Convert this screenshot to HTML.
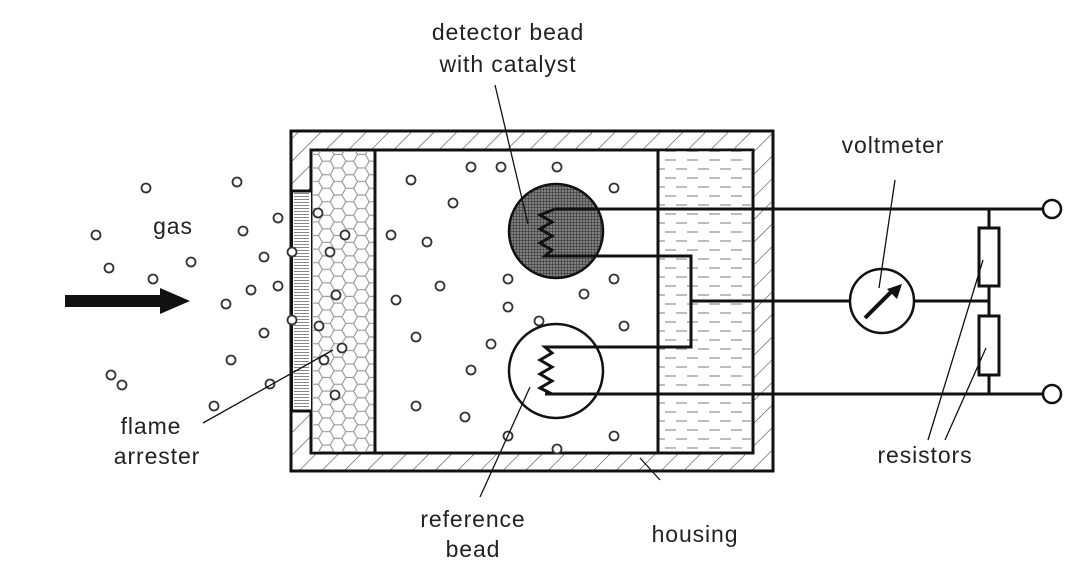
<!DOCTYPE html>
<html><head><style>
html,body{margin:0;padding:0;background:#fff;}
svg{display:block;}
text{font-family:"Liberation Sans",sans-serif;font-size:23px;letter-spacing:0.9px;fill:#222;}
</style></head><body>
<svg width="1080" height="571" viewBox="0 0 1080 571" xmlns="http://www.w3.org/2000/svg">
<defs>
<pattern id="hatch" width="16" height="16" patternUnits="userSpaceOnUse" patternTransform="rotate(45)">
<line x1="0" y1="0" x2="0" y2="16" stroke="#555" stroke-width="1.3"/>
</pattern>
<pattern id="hex" width="18" height="31.2" patternUnits="userSpaceOnUse" x="311" y="150" patternTransform="scale(1.3)">
<path d="M0,0 L6,0 L9,5.2 L6,10.4 L0,10.4 L-3,5.2 Z M9,5.2 L15,5.2 M6,10.4 L9,15.6 L6,20.8 L0,20.8 L-3,15.6 L0,10.4 M9,15.6 L15,15.6 M6,20.8 L9,26 L6,31.2 L0,31.2 L-3,26 L0,20.8 M9,26 L15,26 M18,0 L21,5.2 M18,10.4 L21,5.2 M18,10.4 L21,15.6 M18,20.8 L21,15.6 M18,20.8 L21,26 M18,31.2 L21,26 M15,5.2 L18,0 M15,5.2 L18,10.4 M15,15.6 L18,10.4 M15,15.6 L18,20.8 M15,26 L18,20.8 M15,26 L18,31.2" fill="none" stroke="#999" stroke-width="0.9"/>
</pattern>
<pattern id="liq" width="22" height="18" patternUnits="userSpaceOnUse" x="662" y="152">
<line x1="3" y1="8" x2="14" y2="8" stroke="#999" stroke-width="1.3"/>
<line x1="14" y1="17" x2="25" y2="17" stroke="#999" stroke-width="1.3"/>
<line x1="-8" y1="17" x2="3" y2="17" stroke="#999" stroke-width="1.3"/>
</pattern>
<pattern id="mesh" width="3" height="3" patternUnits="userSpaceOnUse">
<rect width="3" height="3" fill="#808080"/>
<path d="M0,0.5 H3 M0.5,0 V3" stroke="#444" stroke-width="0.8"/>
</pattern>
<pattern id="strip" width="18" height="3" patternUnits="userSpaceOnUse">
<line x1="0" y1="1.5" x2="18" y2="1.5" stroke="#888" stroke-width="1"/>
</pattern>
</defs>

<path d="M291,131 H773 V471 H291 Z M311,150 V453 H753 V150 Z" fill="url(#hatch)" fill-rule="evenodd"/>
<rect x="291" y="131" width="482" height="340" fill="none" stroke="#111" stroke-width="3"/>
<rect x="311" y="150" width="442" height="303" fill="#fff" stroke="#111" stroke-width="3"/>
<rect x="312" y="151" width="63" height="301" fill="url(#hex)"/>
<line x1="375" y1="150" x2="375" y2="453" stroke="#111" stroke-width="3"/>
<rect x="659" y="151" width="93" height="301" fill="url(#liq)"/>
<line x1="658" y1="150" x2="658" y2="453" stroke="#111" stroke-width="3"/>
<rect x="292" y="191" width="19" height="220" fill="#fff"/>
<rect x="294" y="193" width="15" height="216" fill="url(#strip)"/>
<line x1="292" y1="191" x2="311" y2="191" stroke="#111" stroke-width="3"/>
<line x1="292" y1="411" x2="311" y2="411" stroke="#111" stroke-width="3"/>
<line x1="292" y1="191" x2="292" y2="411" stroke="#111" stroke-width="2"/>

<g fill="#fff" stroke="#333" stroke-width="1.8">
<circle cx="146" cy="188" r="4.5"/><circle cx="237" cy="182" r="4.5"/><circle cx="96" cy="235" r="4.5"/>
<circle cx="278" cy="218" r="4.5"/><circle cx="243" cy="231" r="4.5"/><circle cx="109" cy="268" r="4.5"/>
<circle cx="153" cy="279" r="4.5"/><circle cx="191" cy="262" r="4.5"/><circle cx="264" cy="257" r="4.5"/>
<circle cx="278" cy="286" r="4.5"/><circle cx="251" cy="290" r="4.5"/><circle cx="226" cy="304" r="4.5"/>
<circle cx="292" cy="252" r="4.5"/><circle cx="318" cy="213" r="4.5"/><circle cx="345" cy="235" r="4.5"/>
<circle cx="330" cy="252" r="4.5"/><circle cx="336" cy="295" r="4.5"/><circle cx="264" cy="333" r="4.5"/>
<circle cx="231" cy="360" r="4.5"/><circle cx="292" cy="320" r="4.5"/><circle cx="319" cy="326" r="4.5"/>
<circle cx="342" cy="348" r="4.5"/><circle cx="324" cy="360" r="4.5"/><circle cx="270" cy="384" r="4.5"/>
<circle cx="111" cy="375" r="4.5"/><circle cx="122" cy="385" r="4.5"/><circle cx="214" cy="406" r="4.5"/>
<circle cx="335" cy="395" r="4.5"/>
<circle cx="411" cy="180" r="4.5"/><circle cx="471" cy="167" r="4.5"/><circle cx="501" cy="167" r="4.5"/>
<circle cx="557" cy="167" r="4.5"/><circle cx="453" cy="203" r="4.5"/><circle cx="614" cy="188" r="4.5"/>
<circle cx="391" cy="235" r="4.5"/><circle cx="427" cy="242" r="4.5"/><circle cx="508" cy="279" r="4.5"/>
<circle cx="614" cy="279" r="4.5"/><circle cx="440" cy="286" r="4.5"/><circle cx="396" cy="300" r="4.5"/>
<circle cx="508" cy="307" r="4.5"/><circle cx="584" cy="294" r="4.5"/><circle cx="624" cy="326" r="4.5"/>
<circle cx="539" cy="321" r="4.5"/><circle cx="491" cy="344" r="4.5"/><circle cx="416" cy="337" r="4.5"/>
<circle cx="471" cy="370" r="4.5"/><circle cx="416" cy="406" r="4.5"/><circle cx="465" cy="417" r="4.5"/>
<circle cx="508" cy="436" r="4.5"/><circle cx="614" cy="436" r="4.5"/><circle cx="557" cy="449" r="4.5"/>
</g>

<circle cx="556" cy="231" r="47" fill="url(#mesh)" stroke="#111" stroke-width="2.5"/>
<circle cx="556" cy="371" r="47" fill="#fff" stroke="#111" stroke-width="2.5"/>
<g fill="none" stroke="#111" stroke-width="3">
<path d="M555,209 H1043 M555,209 L540,215 L552,222 L540,229 L552,236 L540,243 L552,250 L545,256 H691 V347 H545 L552,353 L540,360 L552,367 L540,374 L552,381 L540,388 L552,394 L545,394 H1043"/>
<path d="M691,301 H851 M914,301 H989 M989,209 V228 M989,286 V316 M989,375 V394"/>
</g>
<rect x="979" y="228" width="20" height="58" fill="#fff" stroke="#111" stroke-width="3"/>
<rect x="979" y="316" width="20" height="59" fill="#fff" stroke="#111" stroke-width="3"/>
<circle cx="1052" cy="209" r="9" fill="#fff" stroke="#111" stroke-width="2.5"/>
<circle cx="1052" cy="394" r="9" fill="#fff" stroke="#111" stroke-width="2.5"/>
<circle cx="882" cy="301" r="32" fill="#fff" stroke="#111" stroke-width="2.5"/>
<line x1="865" y1="318" x2="893" y2="290" stroke="#111" stroke-width="4"/>
<polygon points="902,284 887,289 897,299" fill="#111"/>

<rect x="65" y="295" width="97" height="12" fill="#111"/>
<polygon points="160,288 190,301 160,314" fill="#111"/>

<g stroke="#111" stroke-width="1.3">
<line x1="495" y1="85" x2="528" y2="224"/>
<line x1="203" y1="423" x2="333" y2="350"/>
<line x1="480" y1="497" x2="530" y2="387"/>
<line x1="640" y1="458" x2="660" y2="480"/>
<line x1="895" y1="180" x2="879" y2="288"/>
<line x1="928" y1="440" x2="983" y2="260"/>
<line x1="945" y1="440" x2="986" y2="348"/>
</g>

<text x="508" y="40" text-anchor="middle">detector bead</text>
<text x="508" y="72" text-anchor="middle">with catalyst</text>
<text x="173" y="234" text-anchor="middle">gas</text>
<text x="151" y="434" text-anchor="middle">flame</text>
<text x="157" y="464" text-anchor="middle">arrester</text>
<text x="893" y="153" text-anchor="middle">voltmeter</text>
<text x="925" y="463" text-anchor="middle">resistors</text>
<text x="473" y="527" text-anchor="middle">reference</text>
<text x="473" y="557" text-anchor="middle">bead</text>
<text x="695" y="542" text-anchor="middle">housing</text>
</svg>
</body></html>
